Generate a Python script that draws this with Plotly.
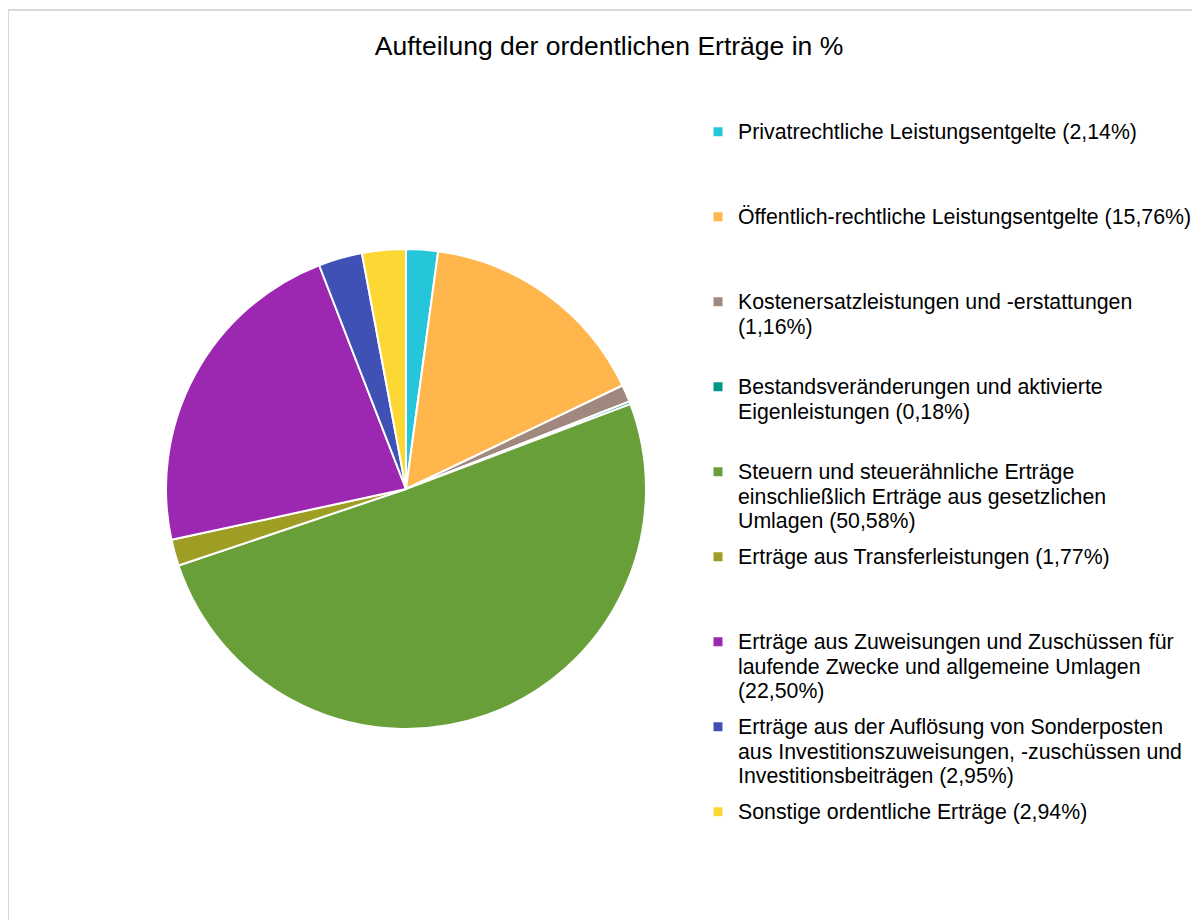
import plotly.graph_objects as go

# Ordentliche Erträge, Anteile in %
# "\n" marks where the legend text wraps in the original
categories = [
    "Privatrechtliche Leistungsentgelte",
    "Öffentlich-rechtliche Leistungsentgelte",
    "Kostenersatzleistungen und -erstattungen\n",
    "Bestandsveränderungen und aktivierte\nEigenleistungen",
    "Steuern und steuerähnliche Erträge\neinschließlich Erträge aus gesetzlichen\nUmlagen",
    "Erträge aus Transferleistungen",
    "Erträge aus Zuweisungen und Zuschüssen für\nlaufende Zwecke und allgemeine Umlagen\n",
    "Erträge aus der Auflösung von Sonderposten\naus Investitionszuweisungen, -zuschüssen und\nInvestitionsbeiträgen",
    "Sonstige ordentliche Erträge",
]
shares = [2.14, 15.76, 1.16, 0.18, 50.58, 1.77, 22.50, 2.95, 2.94]
colors = ["#26C6DA", "#FFB74D", "#A1887F", "#009688", "#689F38",
          "#9E9D24", "#9C27B0", "#3F51B5", "#FDD835"]

title = "Aufteilung der ordentlichen Erträge in %"

W, H = 1200, 920
FONT = "Liberation Sans, Arial, sans-serif"
LEGEND_TEXT_PX = 21.3     # glyph size of legend text
LEGEND_LINE_PX = 24.5     # line pitch of wrapped legend text (tighter than plotly's 1.3)


def legend_label(name, value):
    pct = f"({value:.2f}%)".replace(".", ",")
    text = name + pct if name.endswith("\n") else name + " " + pct
    lines = [f"<span style='font-size:{LEGEND_TEXT_PX}px'>{ln}</span>" for ln in text.split("\n")]
    # pad every entry to three lines so all slots are equally high
    lines += ["\u00a0"] * (3 - len(lines))
    return "<br>".join(lines)


fig = go.Figure()

fig.add_trace(
    go.Pie(
        labels=[c.replace("\n", " ") for c in categories],
        values=shares,
        sort=False,
        direction="clockwise",
        rotation=0,
        textinfo="none",
        hoverinfo="label+percent",
        marker=dict(colors=colors, line=dict(color="white", width=2)),
        showlegend=False,
        domain=dict(x=[158 / W, 638 / W], y=[1 - 721 / H, 1 - 241 / H]),
    )
)

# legend proxies, one group each so the entries get even spacing
for i, (name, value, color) in enumerate(zip(categories, shares, colors)):
    fig.add_trace(
        go.Scatter(
            x=[None], y=[None],
            mode="markers",
            marker=dict(symbol="square", size=9, color=color),
            name=legend_label(name, value),
            legendgroup=f"g{i}",
            hoverinfo="skip",
        )
    )

# light chart-area frame
fig.add_shape(
    type="rect", xref="paper", yref="paper",
    x0=0, x1=1.02, y0=-0.02, y1=1 - 2 / H,
    line=dict(color="#D9D9D9", width=2),
    fillcolor="rgba(0,0,0,0)",
)

fig.update_layout(
    width=W,
    height=H,
    margin=dict(l=0, r=0, t=0, b=0),
    paper_bgcolor="white",
    plot_bgcolor="white",
    font=dict(family=FONT, color="#000000"),
    title=dict(
        text=title,
        x=601 / W, xanchor="center",
        y=1 - 38 / H, yanchor="middle",
        font=dict(family=FONT, size=26.5, color="#000000"),
    ),
    xaxis=dict(visible=False),
    yaxis=dict(visible=False),
    legend=dict(
        x=690 / W, xanchor="left",
        y=1 - 105 / H, yanchor="top",
        valign="top",
        tracegroupgap=8.5,
        itemclick=False,
        font=dict(family=FONT, size=LEGEND_LINE_PX / 1.3, color="#000000"),
        bgcolor="rgba(0,0,0,0)",
    ),
)

fig.write_html("out.html")
